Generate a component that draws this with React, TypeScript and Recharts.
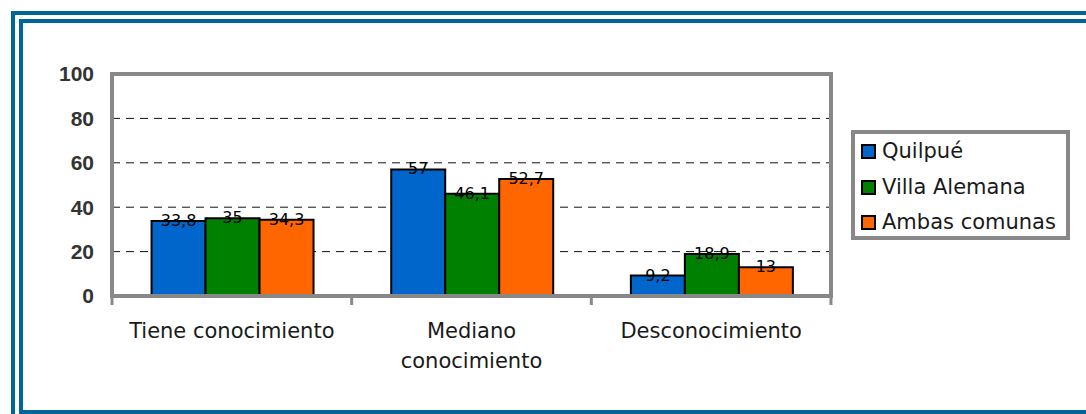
import { Bar, BarChart, CartesianGrid, LabelList, Legend, ReferenceArea, XAxis, YAxis } from "recharts";

const categories = ["Tiene conocimiento", "Mediano\nconocimiento", "Desconocimiento"];
const quilpue = [33.8, 57, 9.2];
const villaAlemana = [35, 46.1, 18.9];
const ambasComunas = [34.3, 52.7, 13];
const yTicks = [0, 20, 40, 60, 80, 100];

const series = [
  { key: "quilpue", name: "Quilpué", color: "#0066cc" },
  { key: "villa", name: "Villa Alemana", color: "#008000" },
  { key: "ambas", name: "Ambas comunas", color: "#ff6600" }
];

const data = categories.map((name, i) => ({
  name,
  quilpue: quilpue[i],
  villa: villaAlemana[i],
  ambas: ambasComunas[i]
}));

const W = 1086;
const H = 414;
const frame = "#00669a";
const plotGray = "#888888";
const font = "'DejaVu Sans', sans-serif";
const PLOT_W = 719;

const fmt = (v: number) => String(v).replace(".", ",");

function CategoryTick(props: any) {
  const { x, y, payload, index, visibleTicksCount } = props;
  const count = visibleTicksCount || categories.length;
  const half = PLOT_W / count / 2;
  const lines = String(payload.value).split("\n");
  return (
    <g>
      <line x1={x - half} x2={x - half} y1={y - 9} y2={y} stroke={plotGray} strokeWidth={3} />
      {index === count - 1 && (
        <line x1={x + half} x2={x + half} y1={y - 9} y2={y} stroke={plotGray} strokeWidth={3} />
      )}
      <text x={x} y={y + 33} textAnchor="middle" fill="#1a1a1a" fontSize={21} fontFamily={font}>
        {lines.map((l, i) => (
          <tspan key={i} x={x} dy={i === 0 ? 0 : 30}>
            {l}
          </tspan>
        ))}
      </text>
    </g>
  );
}

// legend drawn in series order (recharts sorts the payload by name otherwise)
function LegendBox() {
  return (
    <div style={{ paddingLeft: 6 }}>
      {series.map((s) => (
        <div key={s.key} style={{ display: "flex", alignItems: "center", height: 35.5 }}>
          <span
            style={{
              width: 15,
              height: 15,
              boxSizing: "border-box",
              border: "2px solid #000",
              background: s.color,
              marginRight: 6
            }}
          />
          <span style={{ fontFamily: font, fontSize: 21, color: "#1a1a1a", lineHeight: 1 }}>{s.name}</span>
        </div>
      ))}
    </div>
  );
}

export default function App() {
  return (
    <div style={{ position: "absolute", left: 0, top: 0, width: W, height: H, overflow: "hidden", background: "#fff" }}>
      <div
        style={{
          position: "absolute",
          left: 11,
          top: 11,
          width: 1200,
          height: 600,
          border: `4px solid ${frame}`,
          boxSizing: "border-box"
        }}
      />
      <div
        style={{
          position: "absolute",
          left: 19,
          top: 19,
          width: 1200,
          height: H - 19,
          border: `4px solid ${frame}`,
          boxSizing: "border-box"
        }}
      />
      <div style={{ position: "absolute", left: 0, top: 0 }}>
        <BarChart
          width={W}
          height={H}
          data={data}
          margin={{ top: 74, right: 255, bottom: 0, left: 0 }}
          barCategoryGap="16.5%"
          barGap={0}
          style={{ fontFamily: font }}
        >
          <CartesianGrid vertical={false} horizontal stroke="#111" strokeDasharray="8 6" />
          <XAxis
            dataKey="name"
            height={118}
            interval={0}
            tickSize={9}
            tickMargin={0}
            tickLine={false}
            axisLine={{ stroke: plotGray, strokeWidth: 4 }}
            tick={<CategoryTick />}
          />
          <YAxis
            width={112}
            domain={[0, 100]}
            ticks={yTicks}
            tickSize={0}
            tickMargin={18}
            tickLine={false}
            axisLine={{ stroke: plotGray, strokeWidth: 4 }}
            tick={{ fill: "#333", fontSize: 21, fontWeight: "bold", fontFamily: "'Liberation Sans', Arial, sans-serif" }}
          />
          <ReferenceArea y1={0} y2={100} fill="none" stroke={plotGray} strokeWidth={4} ifOverflow="visible" />
          <Legend
            layout="vertical"
            align="center"
            verticalAlign="middle"
            content={<LegendBox />}
            wrapperStyle={{
              left: 851,
              top: 130,
              width: 219,
              height: 110,
              border: `4px solid ${plotGray}`,
              boxSizing: "border-box",
              background: "#fff"
            }}
          />
          {series.map((s) => (
            <Bar key={s.key} dataKey={s.key} name={s.name} fill={s.color} stroke="#000" strokeWidth={2} isAnimationActive={false}>
              <LabelList
                dataKey={s.key}
                position="top"
                offset={-5}
                formatter={(v: any) => fmt(v)}
                style={{ fill: "#000", fontSize: 16, fontFamily: font }}
              />
            </Bar>
          ))}
        </BarChart>
      </div>
    </div>
  );
}
